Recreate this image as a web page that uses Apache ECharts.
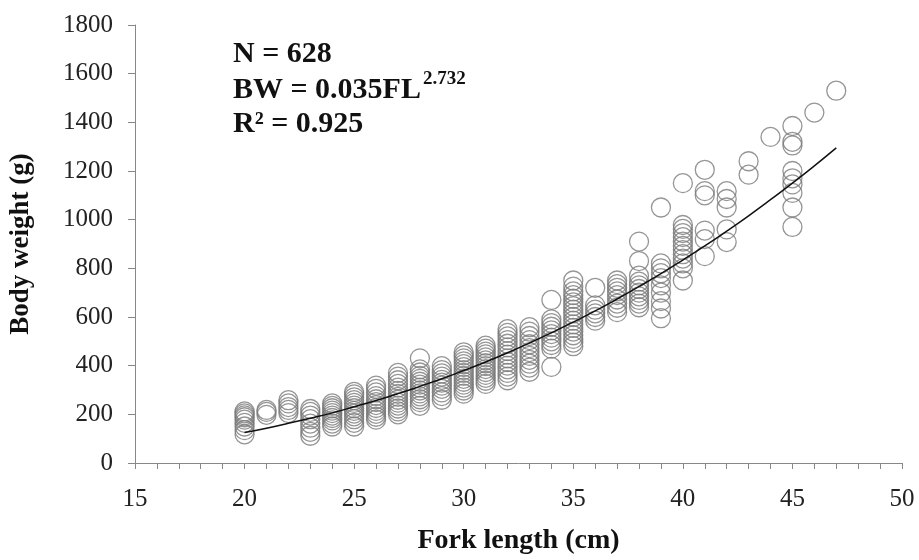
<!DOCTYPE html>
<html>
<head>
<meta charset="utf-8">
<script src="https://cdn.jsdelivr.net/npm/echarts@6/dist/echarts.min.js"></script>
<style>
html,body{margin:0;padding:0;background:#fff;}
#chart{width:919px;height:560px;}
</style>
</head>
<body>
<div id="chart"></div>
<script>
// Observed body weights (g) per fork length (cm)
const w20 = [118, 135, 150, 165, 178, 188, 196, 204, 212];
const w21 = [198, 210, 218];
const w22 = [205, 218, 230, 245, 258];
const w23 = [112, 128, 145, 162, 180, 195, 210, 222];
const w24 = [150, 162, 175, 185, 195, 205, 215, 225, 235, 245];
const w25 = [150, 165, 180, 192, 203, 214, 225, 236, 247, 258, 270, 282, 292];
const w26 = [178, 190, 202, 214, 226, 238, 250, 262, 275, 290, 305, 318];
const w27 = [200, 212, 224, 236, 248, 260, 272, 284, 296, 310, 325, 340, 355, 370];
const w28 = [235, 250, 262, 274, 286, 298, 310, 322, 334, 346, 358, 372, 385, 430];
const w29 = [260, 275, 290, 305, 318, 330, 342, 355, 368, 382, 398];
const w30 = [285, 298, 310, 322, 334, 346, 358, 370, 382, 394, 406, 418, 430, 442, 455];
const w31 = [325, 338, 350, 362, 374, 386, 398, 410, 422, 434, 446, 458, 470, 482];
const w32 = [340, 355, 370, 385, 400, 415, 430, 445, 460, 475, 490, 505, 520, 535, 550];
const w33 = [375, 392, 408, 424, 440, 456, 472, 488, 505, 522, 540, 558];
const w34 = [395, 470, 485, 500, 515, 530, 545, 560, 575, 590, 670];
const w35 = [480, 495, 510, 525, 540, 555, 570, 585, 600, 615, 630, 645, 660, 675, 690, 705, 725, 750];
const w36 = [585, 600, 615, 630, 648, 720];
const w37 = [620, 638, 655, 672, 690, 705, 720, 735, 750];
const w38 = [640, 655, 670, 685, 700, 715, 730, 745, 770, 830, 910];
const w39 = [595, 635, 665, 700, 730, 760, 780, 800, 820, 1050];
const w40 = [750, 800, 820, 840, 858, 875, 892, 910, 928, 945, 962, 978, 1150];
const w41 = [850, 920, 955, 1100, 1117, 1205];
const w42 = [908, 960, 1050, 1085, 1117];
const w43 = [1185, 1240];
const w44 = [1340];
const w45 = [970, 1050, 1110, 1145, 1170, 1200, 1305, 1320, 1385];
const w46 = [1440];
const w47 = [1530];

const lengths = [20, 21, 22, 23, 24, 25, 26, 27, 28, 29, 30, 31, 32, 33, 34, 35, 36, 37, 38, 39, 40, 41, 42, 43, 44, 45, 46, 47];
const weightColumns = [w20, w21, w22, w23, w24, w25, w26, w27, w28, w29, w30, w31, w32, w33, w34, w35, w36, w37, w38, w39, w40, w41, w42, w43, w44, w45, w46, w47];

// Fitted curve
const curveL = [20, 21, 22, 23, 24, 25, 26, 27, 28, 29, 30, 31, 32, 33, 34, 35, 36, 37, 38, 39, 40, 41, 42, 43, 44, 45, 46, 47];
const curveW = [125, 143, 163, 184, 206, 231, 257, 285, 315, 346, 380, 415, 453, 493, 535, 579, 625, 674, 725, 778, 834, 892, 953, 1016, 1082, 1150, 1221, 1295];

const xTicks = [15, 20, 25, 30, 35, 40, 45, 50];

const scatterData = [];
lengths.forEach((L, i) => weightColumns[i].forEach(w => scatterData.push([L, w])));
const curveData = curveL.map((L, i) => [L, curveW[i]]);

const FONT = '"Liberation Serif", "Times New Roman", serif';
const mainFont = 'bold 30px ' + FONT;
const supFont = 'bold 19px ' + FONT;
const mc = document.createElement('canvas').getContext('2d');
mc.font = mainFont;
const bwWidth = mc.measureText('BW = 0.035FL').width;

const chart = echarts.init(document.getElementById('chart'), null, {renderer: 'canvas'});
chart.setOption({
  animation: false,
  backgroundColor: '#ffffff',
  grid: {left: 135, right: 17, top: 25, bottom: 95, containLabel: false},
  xAxis: {
    type: 'value', min: 15, max: 50, interval: 1,
    name: 'Fork length (cm)', nameLocation: 'middle', nameGap: 64,
    nameTextStyle: {fontFamily: FONT, fontWeight: 'bold', fontSize: 28, color: '#111'},
    axisLine: {show: true, lineStyle: {color: '#888', width: 1}},
    axisTick: {show: true, length: 6, inside: false, lineStyle: {color: '#888'}},
    splitLine: {show: false},
    axisLabel: {
      fontFamily: FONT, fontSize: 25, color: '#222', margin: 24,
      showMinLabel: true, showMaxLabel: true,
      formatter: v => (xTicks.indexOf(v) >= 0 ? String(v) : '')
    }
  },
  yAxis: {
    type: 'value', min: 0, max: 1800, interval: 200,
    name: 'Body weight (g)', nameLocation: 'middle', nameGap: 100,
    nameTextStyle: {fontFamily: FONT, fontWeight: 'bold', fontSize: 27, color: '#111'},
    axisLine: {show: true, lineStyle: {color: '#888', width: 1}},
    axisTick: {show: true, length: 7, inside: false, lineStyle: {color: '#888'}},
    splitLine: {show: false},
    axisLabel: {fontFamily: FONT, fontSize: 25, color: '#222', margin: 22, formatter: v => String(v)}
  },
  series: [
    {
      type: 'scatter',
      data: scatterData,
      symbol: 'circle',
      symbolSize: 19,
      itemStyle: {color: 'rgba(0,0,0,0)', borderColor: '#7a7a7a', borderWidth: 1.3},
      z: 2
    },
    {
      type: 'line',
      data: curveData,
      smooth: true,
      showSymbol: false,
      lineStyle: {color: '#111', width: 1.5},
      z: 3
    }
  ],
  graphic: [
    {
      type: 'text', left: 233, top: 39,
      style: {text: 'N = 628', font: mainFont, fill: '#111'}
    },
    {
      type: 'text', left: 233, top: 75,
      style: {text: 'BW = 0.035FL', font: mainFont, fill: '#111'}
    },
    {
      type: 'text', left: 233 + bwWidth + 2, top: 70,
      style: {text: '2.732', font: supFont, fill: '#111'}
    },
    {
      type: 'text', left: 233, top: 109,
      style: {text: 'R\u00B2 = 0.925', font: mainFont, fill: '#111'}
    }
  ]
});
</script>
</body>
</html>
